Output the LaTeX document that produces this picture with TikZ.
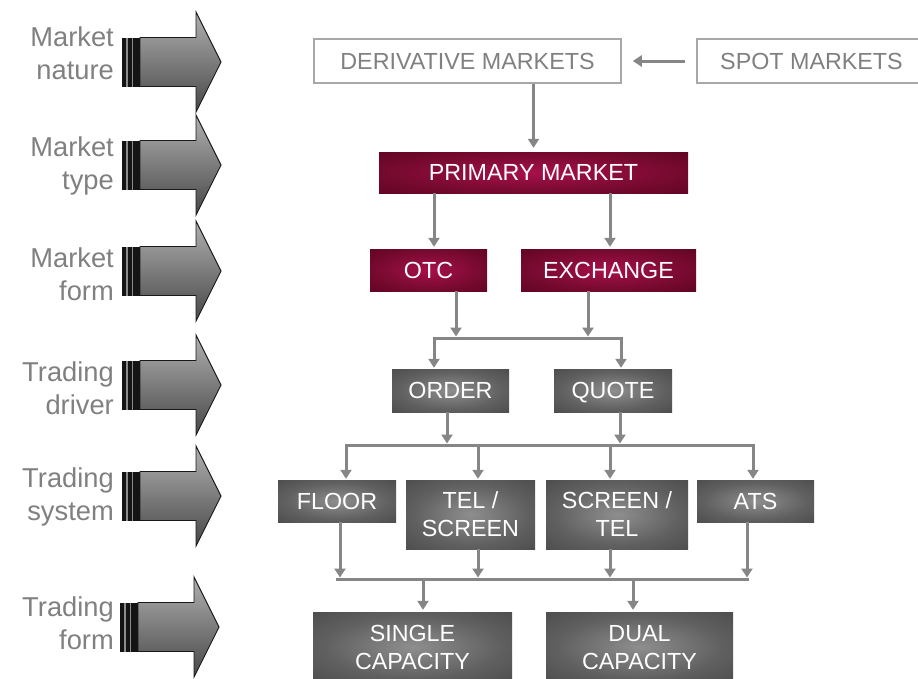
\documentclass[tikz,border=0pt]{standalone}
\usepackage{fontspec}
\setmainfont{Liberation Sans}
\usetikzlibrary{arrows.meta,calc}
\definecolor{lblgray}{HTML}{808080}
\definecolor{linegray}{HTML}{868686}
\definecolor{boxline}{HTML}{A8A8A8}
\definecolor{redin}{HTML}{A8104A}
\definecolor{redmid}{HTML}{780A30}
\definecolor{redout}{HTML}{4A0019}
\definecolor{grayin}{HTML}{8E8E8E}
\definecolor{graymid}{HTML}{606060}
\definecolor{grayout}{HTML}{3A3A3A}
\definecolor{arrtop}{HTML}{B0B0B0}
\definecolor{arrmid}{HTML}{828282}
\definecolor{arrbot}{HTML}{474747}
\pgfdeclareradialshading{redglow}{\pgfpoint{0bp}{0bp}}{color(0bp)=(redin); color(22bp)=(redmid); color(50bp)=(redout)}
\pgfdeclareradialshading{grayglow}{\pgfpoint{0bp}{0bp}}{color(0bp)=(grayin); color(22bp)=(graymid); color(50bp)=(grayout)}
\tikzset{
  boxtxt/.style={font=\fontsize{23.3}{28}\selectfont, inner sep=0pt, align=center, text depth=0pt},
  outlinebox/.style={boxtxt, draw=boxline, line width=1.5pt, fill=white, text=lblgray, minimum height=44pt},
  redbox/.style={boxtxt, shading=redglow, text=white},
  graybox/.style={boxtxt, shading=grayglow, text=white},
  lbl/.style={font=\fontsize{27.3}{33}\selectfont, text=lblgray, align=right, inner sep=0pt, anchor=north east},
  conn/.style={draw=linegray, line width=3pt},
  tip/.style={-{Triangle[width=11pt,length=9pt]}},
  arr/.style={conn, tip},
  sidearrow/.pic={
    \fill[black!92] (0,-24.5) rectangle (18,24.5);
    \draw[black!45, line width=1.4pt] (5,-24.5) -- (5,24.5) (10.5,-24.5) -- (10.5,24.5);
    \path[draw=black!90, line width=0.9pt, top color=arrtop, middle color=arrmid, bottom color=arrbot]
      (18,-24.5) -- (74,-24.5) -- (74,-50) -- (99,0) -- (74,50) -- (74,24.5) -- (18,24.5) -- cycle;
  }
}
\begin{document}
\begin{tikzpicture}[x=1pt,y=-1pt]
\useasboundingbox (0,0) rectangle (918,678);
\clip (0,0) rectangle (918,678);

% left side labels and arrows
\node[lbl] (l1) at (114,27) {Market\\nature};
\node[lbl] (l2) at (114,137) {Market\\type};
\node[lbl] (l3) at (114,248) {Market\\form};
\node[lbl] (l4) at (114,362) {Trading\\driver};
\node[lbl] (l5) at (114,468) {Trading\\system};
\node[lbl] (l6) at (114,597) {Trading\\form};
\pic at (122,62) {sidearrow};
\pic at (122,165) {sidearrow};
\pic at (122,271) {sidearrow};
\pic at (122,385) {sidearrow};
\pic at (122,496) {sidearrow};
\pic at (120,627) {sidearrow};

% nodes
\node[outlinebox, minimum width=307pt] (der) at (467.5,61) {DERIVATIVE MARKETS};
\node[outlinebox, minimum width=229pt] (spot) at (811.5,61) {SPOT MARKETS};
\node[redbox, minimum width=309pt, minimum height=41pt] (pm) at (533.5,172.5) {PRIMARY MARKET};
\node[redbox, minimum width=117pt, minimum height=42pt] (otc) at (428.5,270) {OTC};
\node[redbox, minimum width=175pt, minimum height=42pt] (exch) at (608.5,270) {EXCHANGE};
\node[graybox, minimum width=117pt, minimum height=43pt] (ord) at (450.5,390.5) {ORDER};
\node[graybox, minimum width=118pt, minimum height=43pt] (quo) at (613,390.5) {QUOTE};
\node[graybox, minimum width=118pt, minimum height=42pt] (fl) at (337,501) {FLOOR};
\node[graybox, minimum width=129pt, minimum height=69pt] (tel) at (470.5,514.5) {TEL /\\SCREEN};
\node[graybox, minimum width=142pt, minimum height=69pt] (scr) at (617,514.5) {SCREEN /\\TEL};
\node[graybox, minimum width=117pt, minimum height=42pt] (ats) at (755.5,501) {ATS};
\node[graybox, minimum width=199pt, minimum height=70pt] (sgl) at (412.5,647) {SINGLE\\CAPACITY};
\node[graybox, minimum width=187pt, minimum height=70pt] (dual) at (639.5,647) {DUAL\\CAPACITY};

% junction coordinates
\coordinate (j1) at (527,338);
\coordinate (j2) at (550,445);
\coordinate (j3a) at (336,579);
\coordinate (j3b) at (749,579);

% connectors
\draw[arr, shorten <=11pt, shorten >=11pt] (spot.west) -- (der.east);
\draw[arr, shorten >=4pt] (pm.north |- der.south) -- (pm.north);
\draw[arr, shorten >=2pt] ([xshift=5.5pt]otc.north |- pm.south) -- ([xshift=5.5pt]otc.north);
\draw[arr, shorten >=2pt] ([xshift=1.5pt]exch.north |- pm.south) -- ([xshift=1.5pt]exch.north);

\draw[arr, shorten >=1.5pt] ([xshift=27.5pt]otc.south) -- ([xshift=27.5pt]otc.south |- j1);
\draw[arr, shorten >=1.5pt] ([xshift=-20.5pt]exch.south) -- ([xshift=-20.5pt]exch.south |- j1);
\draw[conn, {Triangle[width=11pt,length=9pt]}-{Triangle[width=11pt,length=9pt]}, shorten <=1pt, shorten >=1pt]
  ([xshift=-16.5pt]ord.north) -- ([xshift=-16.5pt]ord.north |- j1) -- ([xshift=8pt]quo.north |- j1) -- ([xshift=8pt]quo.north);

\draw[arr, shorten >=1.5pt] ([xshift=-3.5pt]ord.south) -- ([xshift=-3.5pt]ord.south |- j2);
\draw[arr, shorten >=1.5pt] ([xshift=7pt]quo.south) -- ([xshift=7pt]quo.south |- j2);
\draw[conn, {Triangle[width=11pt,length=9pt]}-{Triangle[width=11pt,length=9pt]}, shorten <=1pt, shorten >=1pt]
  ([xshift=9pt]fl.north) -- ([xshift=9pt]fl.north |- j2) -- ([xshift=-2.5pt]ats.north |- j2) -- ([xshift=-2.5pt]ats.north);
\draw[arr, shorten >=1pt] ([xshift=7.5pt]tel.north |- j2) -- ([xshift=7.5pt]tel.north);
\draw[arr, shorten >=1pt] ([xshift=-7pt]scr.north |- j2) -- ([xshift=-7pt]scr.north);

\draw[conn] (j3a) -- (j3b);
\draw[arr, shorten >=1.5pt] ([xshift=3pt]fl.south) -- ([xshift=3pt]fl.south |- j3a);
\draw[arr, shorten >=1.5pt] ([xshift=7.5pt]tel.south) -- ([xshift=7.5pt]tel.south |- j3a);
\draw[arr, shorten >=1.5pt] ([xshift=-7pt]scr.south) -- ([xshift=-7pt]scr.south |- j3a);
\draw[arr, shorten >=1.5pt] ([xshift=-8.5pt]ats.south) -- ([xshift=-8.5pt]ats.south |- j3a);
\draw[arr, shorten >=2pt] ([xshift=10.5pt]sgl.north |- j3a) -- ([xshift=10.5pt]sgl.north);
\draw[arr, shorten >=2pt] ([xshift=-6.5pt]dual.north |- j3a) -- ([xshift=-6.5pt]dual.north);
\end{tikzpicture}
\end{document}
